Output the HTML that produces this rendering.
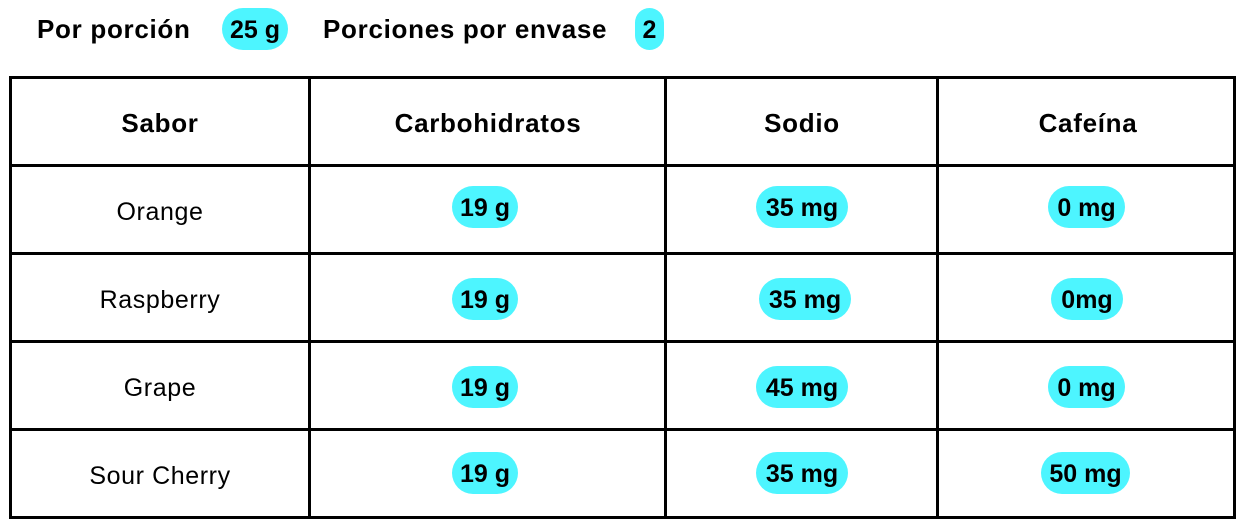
<!DOCTYPE html>
<html><head><meta charset="utf-8"><style>
body{margin:0;width:1241px;height:521px;background:#fff;position:relative;overflow:hidden;font-family:"Liberation Sans",sans-serif;color:#000}
.t{position:absolute;white-space:nowrap;font-size:25px;letter-spacing:0.6px;line-height:42px;transform:translateX(-50%)}
.b{font-weight:bold;font-size:26px;letter-spacing:0.7px}
.p{position:absolute;background:#4df5ff;border-radius:21px;height:42px;line-height:45px;text-align:center;font-weight:bold;font-size:25px;letter-spacing:0;white-space:nowrap}
.h{position:absolute;background:#000;height:3px}
.v{position:absolute;background:#000;width:3px}
</style></head><body>
<div class="t b" style="top:8px;transform:none;left:37px">Por porción</div>
<div class="p" style="left:222px;top:8px;width:66px">25 g</div>
<div class="t b" style="left:323px;top:8px;transform:none">Porciones por envase</div>
<div class="p" style="left:635px;top:8px;width:29px">2</div>

<div class="h" style="left:9px;top:76px;width:1227px"></div>
<div class="h" style="left:9px;top:164px;width:1227px"></div>
<div class="h" style="left:9px;top:252px;width:1227px"></div>
<div class="h" style="left:9px;top:340px;width:1227px"></div>
<div class="h" style="left:9px;top:428px;width:1227px"></div>
<div class="h" style="left:9px;top:516px;width:1227px"></div>
<div class="v" style="left:9px;top:76px;height:443px"></div>
<div class="v" style="left:308px;top:76px;height:443px"></div>
<div class="v" style="left:664px;top:76px;height:443px"></div>
<div class="v" style="left:936px;top:76px;height:443px"></div>
<div class="v" style="left:1233px;top:76px;height:443px"></div>

<div class="t b" style="left:160px;top:102px">Sabor</div>
<div class="t b" style="left:488px;top:102px">Carbohidratos</div>
<div class="t b" style="left:802px;top:102px">Sodio</div>
<div class="t b" style="left:1088px;top:102px">Cafeína</div>

<div class="t" style="left:160px;top:191px">Orange</div>
<div class="t" style="left:160px;top:279px">Raspberry</div>
<div class="t" style="left:160px;top:367px">Grape</div>
<div class="t" style="left:160px;top:455px">Sour Cherry</div>

<div class="p" style="left:452px;top:186px;width:66px">19 g</div>
<div class="p" style="left:756px;top:186px;width:92px">35 mg</div>
<div class="p" style="left:1048px;top:186px;width:77px">0 mg</div>

<div class="p" style="left:452px;top:278px;width:66px">19 g</div>
<div class="p" style="left:759px;top:278px;width:92px">35 mg</div>
<div class="p" style="left:1051px;top:278px;width:72px">0mg</div>

<div class="p" style="left:452px;top:366px;width:66px">19 g</div>
<div class="p" style="left:756px;top:366px;width:92px">45 mg</div>
<div class="p" style="left:1048px;top:366px;width:77px">0 mg</div>

<div class="p" style="left:452px;top:452px;width:66px">19 g</div>
<div class="p" style="left:756px;top:452px;width:92px">35 mg</div>
<div class="p" style="left:1041px;top:452px;width:89px">50 mg</div>
</body></html>
